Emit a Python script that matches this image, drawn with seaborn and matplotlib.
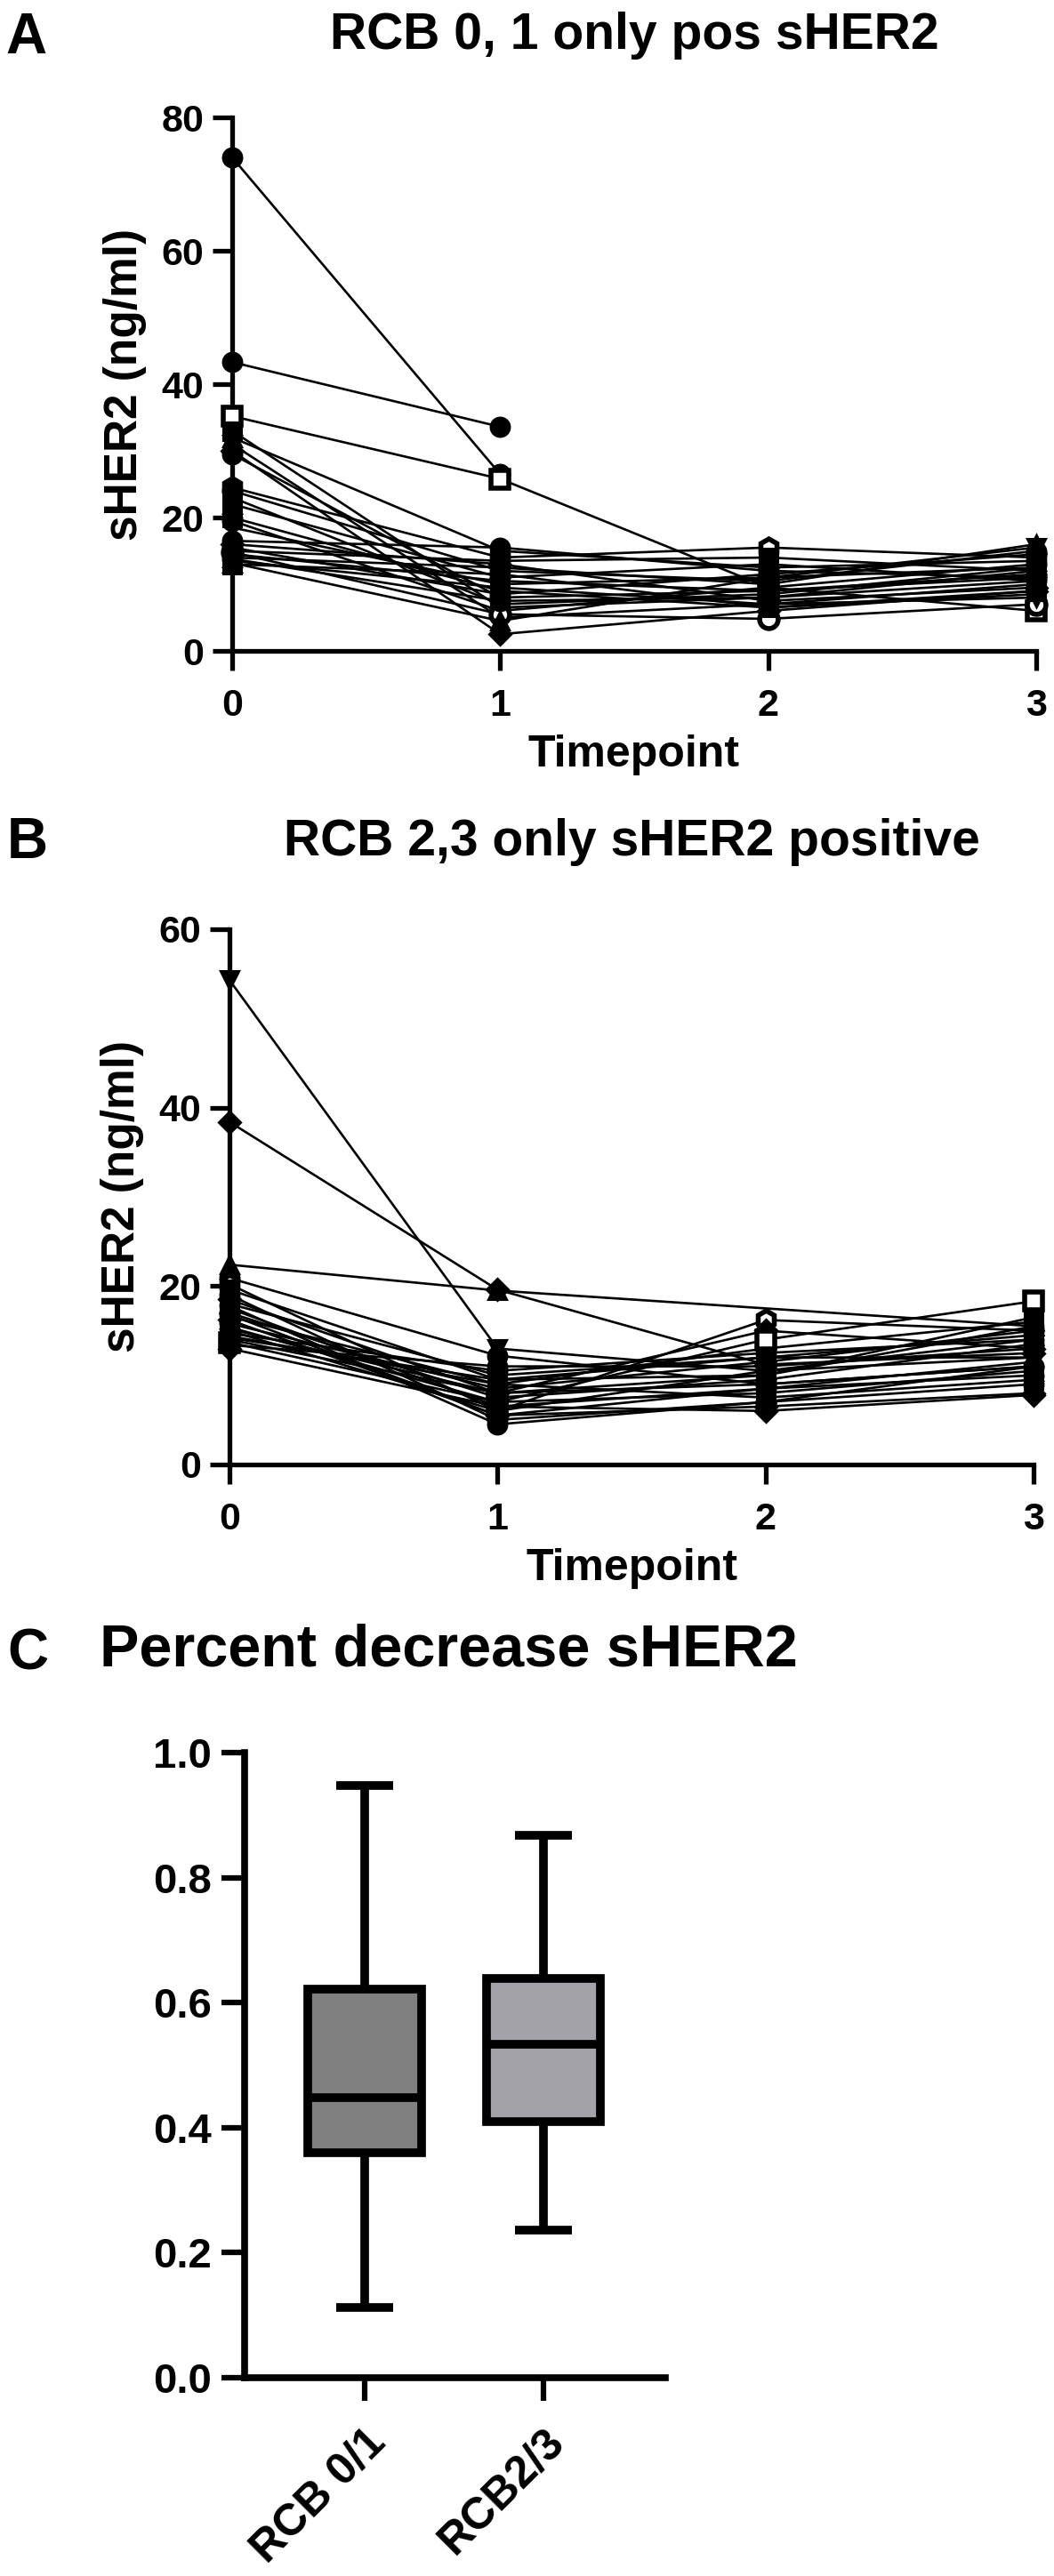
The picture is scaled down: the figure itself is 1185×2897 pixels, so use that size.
import numpy as np
import pandas as pd
import matplotlib
matplotlib.use("Agg")
import matplotlib.pyplot as plt
import seaborn as sns

# ---------------------------------------------------------------------------
# data
# ---------------------------------------------------------------------------
TIMEPOINTS = [0, 1, 2, 3]

# panel A: RCB 0/1, one value per subject at each timepoint (nan = missing)
A_T0 = [74.0, 43.3, 35.2, 33.0, 32.0, 31.0, 30.0, 29.5, 24.5, 24.0, 23.0, 22.0, 20.0,
        19.5, 18.5, 16.5, 16.0, 15.5, 15.0, 14.8, 14.5, 14.0, 13.8, 13.5, 13.2, 13.0]
A_T1 = [26.5, 33.6, 25.8, 6.5, 15.0, 5.0, 2.5, 8.0, 14.0, 12.0, 7.0, 11.0, 9.0,
        6.0, 10.0, 15.5, 13.0, 8.5, 13.5, 5.5, 10.5, 12.5, 7.5, 9.5, 4.5, 11.5]
A_T2 = [np.nan, np.nan, 9.5, 8.0, 12.5, 7.0, 6.0, 9.0, 15.5, 10.5, 8.5, 13.0, 6.5,
        9.5, 11.0, 12.0, 7.5, 11.5, 14.0, 4.8, 9.0, 10.0, 8.0, 7.0, 11.0, 6.5]
A_T3 = [np.nan, np.nan, 6.0, 12.0, 13.5, 10.0, 9.0, 11.5, 14.0, 15.0, 12.5, 10.5, 8.5,
        13.0, 15.5, 11.0, 9.5, 14.5, 12.0, 7.0, 11.0, 16.0, 10.5, 8.0, 12.5, 9.0]

# panel B: RCB 2/3
B_T0 = [54.3, 38.4, 22.4, 20.9, 20.2, 19.6, 19.0, 18.5, 18.0, 17.5, 17.0, 16.6, 16.2,
        15.8, 15.4, 15.0, 14.7, 14.4, 14.0, 13.7, 13.4, 13.0, 16.8, 15.2, 14.2, 17.8]
B_T1 = [13.0, 19.6, 19.5, 12.2, 6.0, 9.5, 5.0, 8.0, 10.0, 6.5, 7.5, 9.0, 5.5,
        8.5, 7.0, 6.0, 10.5, 9.0, 8.0, 7.0, 11.0, 6.5, 5.5, 8.0, 9.5, 4.5]
B_T2 = [10.5, 11.2, np.nan, 9.0, 16.2, 10.0, 7.0, 15.0, 12.0, 8.5, 9.5, 13.0, 6.5,
        11.5, 8.0, 10.5, 12.5, 7.5, 9.0, 14.0, 11.0, 6.0, 8.5, 10.0, 12.0, 7.0]
B_T3 = [14.0, 12.5, 15.5, 11.0, 15.0, 16.5, 9.0, 13.0, 14.5, 11.5, 13.5, 16.0, 8.0,
        15.0, 10.5, 12.0, 14.0, 9.5, 11.0, 18.3, 13.0, 7.8, 10.0, 15.5, 12.0, 11.0]

# panel C: five-number summaries (min, Q1, median, Q3, max) of the percent decrease
C_GROUPS = ["RCB 0/1", "RCB2/3"]
C_RCB01 = [0.112, 0.360, 0.448, 0.622, 0.947]
C_RCB23 = [0.236, 0.410, 0.533, 0.639, 0.868]

# marker style per subject (GraphPad-like symbol cycling)
A_MARKERS = ["o", "o", "s", "s", "^", "v", "D", "o", "h", "o", "s", "^", "s",
             "o", "v", "o", "D", "o", "s", "o", "h", "^", "o", "v", "^", "s"]
A_OPEN = {2, 8, 19}
B_MARKERS = ["v", "D", "^", "o", "h", "s", "o", "D", "^", "v", "o", "s", "D",
             "o", "^", "v", "o", "s", "h", "s", "o", "D", "o", "^", "v", "o"]
B_OPEN = {4, 19}

W, H = 1185, 2897
BOX_COLORS = ["#808080", "#a2a2a8"]


def long_frame(cols):
    rows = []
    for tp, vals in zip(TIMEPOINTS, cols):
        for sid, v in enumerate(vals):
            if not np.isnan(v):
                rows.append({"subject": sid, "timepoint": tp, "value": v})
    return pd.DataFrame(rows)


def px_rect(left, top, right, bottom):
    return [left / W, 1 - bottom / H, (right - left) / W, (bottom - top) / H]


def draw_spaghetti(ax, df, markers, open_ids):
    for sid, sub in df.groupby("subject"):
        m = markers[sid]
        is_open = sid in open_ids
        sns.lineplot(data=sub.sort_values("timepoint"), x="timepoint", y="value", ax=ax,
                     color="black", linewidth=1.9, marker=m,
                     markersize=12 if m == "D" else 15,
                     markerfacecolor="white" if is_open else "black",
                     markeredgecolor="black",
                     markeredgewidth=4.0 if is_open else 2.2,
                     estimator=None, errorbar=None, legend=False, zorder=3)
    for ln in ax.lines:
        ln.set_clip_on(False)


def style_time_axis(ax, ymax, ystep):
    ax.set_xlim(0, 3)
    ax.set_ylim(0, ymax)
    ax.set_xticks(TIMEPOINTS)
    ax.set_yticks(np.arange(0, ymax + 1, ystep))
    sns.despine(ax=ax)
    for s in ("left", "bottom"):
        ax.spines[s].set_linewidth(3.8)
        ax.spines[s].set_capstyle("projecting")
    ax.tick_params(length=16, width=3.8, labelsize=31, direction="out", colors="black")
    ax.tick_params(axis="x", pad=14)
    ax.tick_params(axis="y", pad=7)
    ax.set_xlabel("Timepoint", fontsize=36, fontweight="bold", va="center")
    ax.set_ylabel("sHER2 (ng/ml)", fontsize=37, fontweight="bold", va="center")
    ax.xaxis.set_label_coords(0.5, -0.195)
    ax.yaxis.set_label_coords(-0.133, 0.5)


sns.set_theme(style="ticks")
plt.rcParams["font.family"] = ["Liberation Sans", "DejaVu Sans"]
plt.rcParams["font.weight"] = "bold"
plt.rcParams["axes.labelweight"] = "bold"
plt.rcParams["text.color"] = "black"
plt.rcParams["axes.labelcolor"] = "black"
plt.rcParams["axes.edgecolor"] = "black"
plt.rcParams["xtick.color"] = "black"
plt.rcParams["ytick.color"] = "black"

fig = plt.figure(figsize=(W / 100, H / 100), dpi=100)

# ---- panel A ----
axA = fig.add_axes(px_rect(261, 132, 1165, 732))
draw_spaghetti(axA, long_frame([A_T0, A_T1, A_T2, A_T3]), A_MARKERS, A_OPEN)
style_time_axis(axA, 80, 20)
fig.text(6 / W, 1 - 60 / H, "A", fontsize=46, fontweight="bold", ha="left", va="baseline")
fig.text(713 / W, 1 - 55 / H, "RCB 0, 1 only pos sHER2", fontsize=41,
         fontweight="bold", ha="center", va="baseline")

# ---- panel B ----
axB = fig.add_axes(px_rect(258, 1045, 1162, 1647))
draw_spaghetti(axB, long_frame([B_T0, B_T1, B_T2, B_T3]), B_MARKERS, B_OPEN)
style_time_axis(axB, 60, 20)
fig.text(8 / W, 1 - 965 / H, "B", fontsize=46, fontweight="bold", ha="left", va="baseline")
fig.text(710 / W, 1 - 962 / H, "RCB 2,3 only sHER2 positive", fontsize=41,
         fontweight="bold", ha="center", va="baseline")

# ---- panel C ----
dfc = pd.DataFrame({
    "group": [C_GROUPS[0]] * len(C_RCB01) + [C_GROUPS[1]] * len(C_RCB23),
    "value": C_RCB01 + C_RCB23,
})
axC = fig.add_axes(px_rect(275, 1971, 748, 2674))
sns.boxplot(data=dfc, x="group", y="value", hue="group", palette=BOX_COLORS,
            saturation=1, width=0.64, whis=(0, 100), linewidth=7, linecolor="black",
            fliersize=0, legend=False, ax=axC)
for p in axC.patches:
    p.set_joinstyle("miter")
for ln in axC.lines:
    ln.set_solid_capstyle("butt")
axC.set_xlim(-0.6716, 1.6816)
axC.set_ylim(0, 1.0)
axC.set_yticks(np.arange(0, 1.01, 0.2))
axC.set_yticklabels([f"{v:.1f}" for v in np.arange(0, 1.01, 0.2)])
axC.set_xlabel("")
axC.set_ylabel("")
sns.despine(ax=axC)
for s in ("left", "bottom"):
    axC.spines[s].set_linewidth(5.5)
    axC.spines[s].set_capstyle("projecting")
axC.tick_params(length=19, width=4.5, direction="out", colors="black")
axC.tick_params(axis="y", labelsize=34, pad=8)
axC.tick_params(axis="x", labelsize=36, pad=16)
for lab in axC.get_xticklabels():
    lab.set_rotation(45)
    lab.set_ha("right")
    lab.set_rotation_mode("anchor")
fig.text(8 / W, 1 - 1877 / H, "C", fontsize=46, fontweight="bold", ha="left", va="baseline")
fig.text(112 / W, 1 - 1874 / H, "Percent decrease sHER2", fontsize=48,
         fontweight="bold", ha="left", va="baseline")

fig.savefig("out.png", dpi=100, facecolor="white")
